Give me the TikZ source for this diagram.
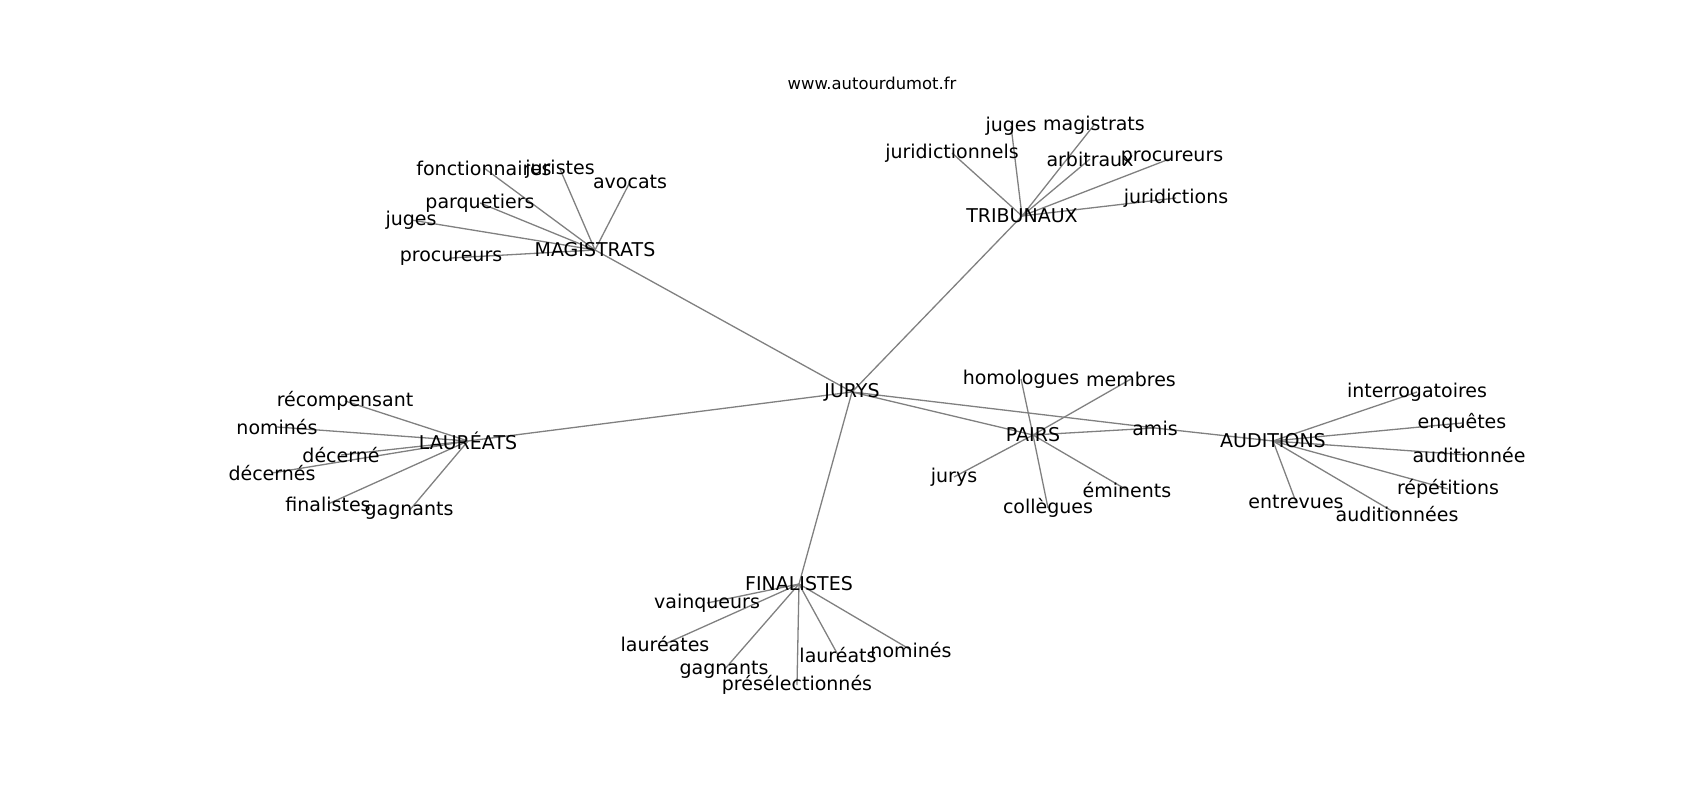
\documentclass[tikz,border=0pt]{standalone}
\usepackage{fontspec}
\setmainfont{DejaVu Sans}
\usetikzlibrary{backgrounds}
\begin{document}
\begin{tikzpicture}[x=1pt,y=-1pt,
  lbl/.style={inner sep=0pt, font=\fontsize{19}{22}\selectfont, text=black},
  ttl/.style={inner sep=0pt, font=\fontsize{16.4}{19}\selectfont, text=black},
  edge/.style={draw=gray, line width=1.3pt}]
\useasboundingbox (0,0) rectangle (1700,800);
\node[ttl] (title) at (872,83) {www.autourdumot.fr};
% hub
\node[lbl] (jurys) at (852,392) {JURYS};
% MAGISTRATS
\node[lbl] (mag) at (595,250) {MAGISTRATS};
\node[lbl] (mfon) at (484,168) {fonctionnaires};
\node[lbl] (mjur) at (560,169) {juristes};
\node[lbl] (mavo) at (630,182) {avocats};
\node[lbl] (mpar) at (480,203) {parquetiers};
\node[lbl] (mjug) at (411,220) {juges};
\node[lbl] (mpro) at (451,258) {procureurs};
% TRIBUNAUX
\node[lbl] (tri) at (1022,216) {TRIBUNAUX};
\node[lbl] (tjug) at (1011,126) {juges};
\node[lbl] (tmag) at (1094,125) {magistrats};
\node[lbl] (tjdn) at (952,153) {juridictionnels};
\node[lbl] (tarb) at (1090,159) {arbitraux};
\node[lbl] (tpro) at (1172,158) {procureurs};
\node[lbl] (tjur) at (1176,198) {juridictions};
% LAUREATS
\node[lbl] (lau) at (468,441) {LAURÉATS};
\node[lbl] (lrec) at (345,401) {récompensant};
\node[lbl] (lnom) at (277,427) {nominés};
\node[lbl] (ldec) at (341,455) {décerné};
\node[lbl] (ldcs) at (272,473) {décernés};
\node[lbl] (lfin) at (328,504) {finalistes};
\node[lbl] (lgag) at (409,511) {gagnants};
% PAIRS
\node[lbl] (pai) at (1033,435) {PAIRS};
\node[lbl] (phom) at (1021,379) {homologues};
\node[lbl] (pmem) at (1131,379) {membres};
\node[lbl] (amis) at (1155,428) {amis};
\node[lbl] (pjur) at (954,477) {jurys};
\node[lbl] (pemi) at (1127,490) {éminents};
\node[lbl] (pcol) at (1048,508) {collègues};
% AUDITIONS
\node[lbl] (aud) at (1273,441) {AUDITIONS};
\node[lbl] (aint) at (1417,392) {interrogatoires};
\node[lbl] (aenq) at (1462,423) {enquêtes};
\node[lbl] (aade) at (1469,455) {auditionnée};
\node[lbl] (arep) at (1448,489) {répétitions};
\node[lbl] (aent) at (1296,502) {entrevues};
\node[lbl] (aads) at (1397,514) {auditionnées};
% FINALISTES
\node[lbl] (fin) at (799,584) {FINALISTES};
\node[lbl] (fvai) at (707,603) {vainqueurs};
\node[lbl] (flae) at (665,644) {lauréates};
\node[lbl] (fgag) at (724,670) {gagnants};
\node[lbl] (fpre) at (797,685) {présélectionnés};
\node[lbl] (flau) at (838,655) {lauréats};
\node[lbl] (fnom) at (911,650) {nominés};
\begin{scope}[on background layer]
\foreach \a/\b in {jurys/mag, jurys/tri, jurys/lau, jurys/fin, jurys/pai, jurys/amis,
  pai/amis, amis/aud,
  mag/mfon, mag/mjur, mag/mavo, mag/mpar, mag/mjug, mag/mpro,
  tri/tjug, tri/tmag, tri/tjdn, tri/tarb, tri/tpro, tri/tjur,
  lau/lrec, lau/lnom, lau/ldec, lau/ldcs, lau/lfin, lau/lgag,
  pai/phom, pai/pmem, pai/pjur, pai/pemi, pai/pcol,
  aud/aint, aud/aenq, aud/aade, aud/arep, aud/aent, aud/aads,
  fin/fvai, fin/flae, fin/fgag, fin/fpre, fin/flau, fin/fnom}
  \draw[edge] (\a.center) -- (\b.center);
\end{scope}
\end{tikzpicture}
\end{document}
